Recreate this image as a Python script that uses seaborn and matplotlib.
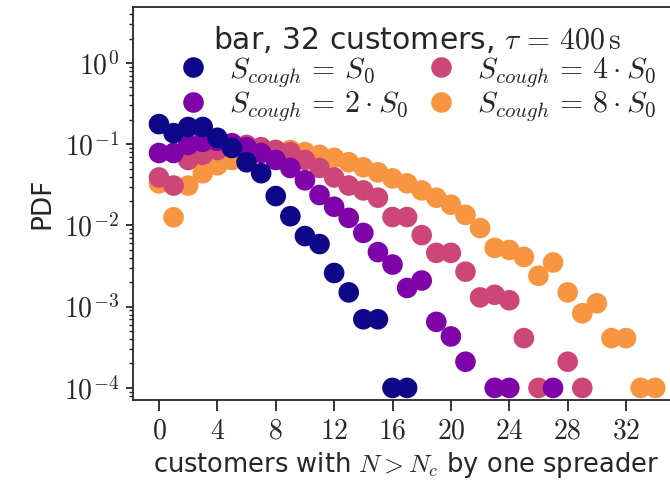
import numpy as np
import pandas as pd
import matplotlib
matplotlib.use("Agg")
import matplotlib.pyplot as plt
from matplotlib.ticker import FuncFormatter
import seaborn as sns

# values (PDF of infected customers per spreader)
x_s1 = list(range(0, 18))
pdf_s1 = [0.177, 0.137, 0.163, 0.163, 0.12, 0.09, 0.06, 0.044, 0.023, 0.013,
          0.0074, 0.0059, 0.0026, 0.0015, 0.0007, 0.0007, 1e-4, 1e-4]

x_s2 = list(range(0, 22)) + [23, 24, 27]
pdf_s2 = [0.078, 0.078, 0.098, 0.107, 0.11, 0.103, 0.092, 0.078, 0.064, 0.051,
          0.036, 0.0237, 0.017, 0.0124, 0.0081, 0.0047, 0.0033, 0.0017, 0.0021,
          0.00065, 0.00043, 0.00021, 1e-4, 1e-4, 1e-4]

x_s4 = list(range(0, 27)) + [28, 29]
pdf_s4 = [0.039, 0.031, 0.064, 0.074, 0.085, 0.092, 0.098, 0.092, 0.085, 0.08,
          0.064, 0.051, 0.039, 0.031, 0.027, 0.022, 0.0127, 0.0127, 0.0076,
          0.0046, 0.0046, 0.0027, 0.0013, 0.0014, 0.0012, 0.00041, 1e-4,
          0.00021, 1e-4]

x_s8 = list(range(0, 35))
pdf_s8 = [0.033, 0.0126, 0.031, 0.044, 0.055, 0.064, 0.074, 0.08, 0.085, 0.085,
          0.08, 0.074, 0.068, 0.06, 0.052, 0.045, 0.038, 0.033, 0.027, 0.022,
          0.018, 0.0135, 0.0093, 0.0053, 0.005, 0.0041, 0.0024, 0.0035, 0.0015,
          0.00083, 0.0011, 0.00041, 0.00041, 1e-4, 1e-4]

labels = [r"$S_{cough} \,=\, S_0$", r"$S_{cough} \,=\, 2 \cdot S_0$",
          r"$S_{cough} \,=\, 4 \cdot S_0$", r"$S_{cough} \,=\, 8 \cdot S_0$"]
colors = [plt.cm.plasma(v) for v in (0.0, 0.25, 0.5, 0.75)]
xticks = [0, 4, 8, 12, 16, 20, 24, 28, 32]

# orange drawn first, navy on top
frames = []
for xs, ys, lab in [(x_s8, pdf_s8, labels[3]), (x_s4, pdf_s4, labels[2]),
                    (x_s2, pdf_s2, labels[1]), (x_s1, pdf_s1, labels[0])]:
    frames.append(pd.DataFrame({"n": xs, "pdf": ys, "case": lab}))
df = pd.concat(frames, ignore_index=True)

sns.set_style("ticks")
plt.rcParams["font.family"] = ["DejaVu Sans"]
plt.rcParams["mathtext.fontset"] = "cm"
plt.rcParams["font.size"] = 16

fig = plt.figure(figsize=(6.7, 4.84), dpi=100)
# axes run a little past the right edge (reference is cropped there)
ax = fig.add_axes([0.1985, 0.1736, 0.8165, 0.812])

sns.scatterplot(data=df, x="n", y="pdf", hue="case", hue_order=labels,
                palette=colors, s=220, linewidth=0, alpha=1, ax=ax)

ax.set_yscale("log")
ax.set_ylim(7.1e-5, 4.9)
ax.set_xlim(-1.78, 35.7)
ax.set_yticks([1e-4, 1e-3, 1e-2, 1e-1, 1e0])
ax.yaxis.set_major_formatter(FuncFormatter(lambda v, p: r"$10^{%d}$" % round(np.log10(v))))
ax.set_xticks(xticks)
ax.set_xticklabels([f"${v}$" for v in xticks])
ax.tick_params(axis="both", which="major", labelsize=20)
ax.tick_params(axis="x", length=8, width=1.3, pad=4)
ax.tick_params(axis="y", which="major", length=5, width=1.3, pad=5)
ax.tick_params(axis="y", which="minor", length=3, width=1)
for sp in ax.spines.values():
    sp.set_linewidth(1.3)

ax.set_xlabel(r"customers with $N > N_c$ by one spreader", fontsize=18.5, labelpad=4)
ax.set_ylabel("PDF", fontsize=19, labelpad=6)

sns.move_legend(ax, "upper center", bbox_to_anchor=(0.52, 1.01), ncol=2,
                frameon=False,
                title=r"bar, 32 customers, $\tau \,=\, 400\,\mathrm{s}$",
                fontsize=21.5, title_fontsize=21.5, handlelength=1.0,
                handletextpad=0.7, columnspacing=0.6, labelspacing=0.0,
                borderpad=0.2)

fig.savefig("out.png", dpi=100)
